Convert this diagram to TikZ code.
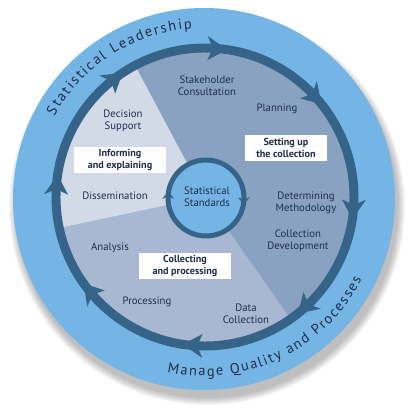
\documentclass[tikz,border=0pt]{standalone}
\usepackage{fontspec}
\setmainfont{PT Sans}
\usetikzlibrary{decorations.text}
\definecolor{bandblue}{HTML}{74B5E5}
\definecolor{ringblue}{HTML}{356488}
\definecolor{setupgray}{HTML}{8AA2C2}
\definecolor{collectgray}{HTML}{A8B7D2}
\definecolor{informgray}{HTML}{D3DAE7}
\definecolor{labelnavy}{HTML}{1F2E4C}
\tikzset{
  stage/.style={text=labelnavy, align=center, inner sep=1pt,
    font=\fontsize{10.8}{12}\selectfont},
  phasebox/.style={fill=white, text=labelnavy, align=center, inner sep=2pt,
    minimum height=27, font=\bfseries\fontsize{10.2}{12}\selectfont},
}
\begin{document}
\begin{tikzpicture}[x=1bp, y=1bp]
\useasboundingbox (-205,-218) rectangle (214,197);
% soft shadow under the disc
\foreach \s in {1,...,8}
  \fill[black, opacity=0.035] (2,-10) circle[radius=190+\s];
\fill[bandblue] (-1,-2) circle[radius=191];
% three phases
\fill[setupgray] (0,0) -- (118:149) arc[start angle=118, end angle=-55, radius=149] -- cycle;
\fill[collectgray] (0,0) -- (-55:149) arc[start angle=-55, end angle=-168, radius=149] -- cycle;
\fill[informgray] (0,0) -- (192:149) arc[start angle=192, end angle=118, radius=149] -- cycle;
% cycle ring with arrowheads
\draw[ringblue, line width=9] (0,0) circle[radius=149];
\foreach \a in {89,46,-1,-44,-91,-137,-181,131}
  \fill[ringblue] (\a:161) -- (\a-7.5:149) -- (\a:137) -- (\a-2:149) -- cycle;
% centre
\begin{scope}[shift={(1,-1)}]
  \fill[bandblue] (0,0) circle[radius=38];
  \draw[ringblue, line width=5] (0,0) circle[radius=38];
  \foreach \a in {181,1}
    \fill[ringblue] (\a:44) -- (\a-11:38) -- (\a:32) -- (\a-3:38) -- cycle;
  \node[stage] (standards) at (1,1) {Statistical\\Standards};
\end{scope}
% text round the band
\path[decorate, decoration={text along path, text align=fit to path,
  text={|\color{labelnavy}\fontsize{14.5}{14.5}\selectfont|Statistical Leadership}}]
  (-1,-2) ++(151:171) arc[start angle=151, end angle=94, radius=171];
\path[decorate, decoration={text along path, text align=fit to path,
  text={|\color{labelnavy}\fontsize{14.5}{14.5}\selectfont|Manage Quality and Processes}}]
  (-1,-2) ++(-102:177) arc[start angle=-102, end angle=-27, radius=177];
% stages
\node[stage] (stakeholder) at (2,111) {Stakeholder\\Consultation};
\node[stage] (planning) at (72,88) {Planning};
\node[stage] (methodology) at (101,-6) {Determining\\Methodology};
\node[stage] (development) at (93,-44) {Collection\\Development};
\node[stage] (datacoll) at (41,-117) {Data\\Collection};
\node[stage] (processing) at (-58,-105) {Processing};
\node[stage] (analysis) at (-95,-51) {Analysis};
\node[stage] (dissemination) at (-90,1) {Dissemination};
\node[stage] (decision) at (-82,76) {Decision\\Support};
% phase boxes
\node[phasebox, minimum width=83] (setup) at (81,49) {Setting up\\the collection};
\node[phasebox, minimum width=92] (collect) at (-20,-69) {Collecting\\and processing};
\node[phasebox, minimum width=92] (inform) at (-85,37) {Informing\\and explaining};
\end{tikzpicture}
\end{document}
